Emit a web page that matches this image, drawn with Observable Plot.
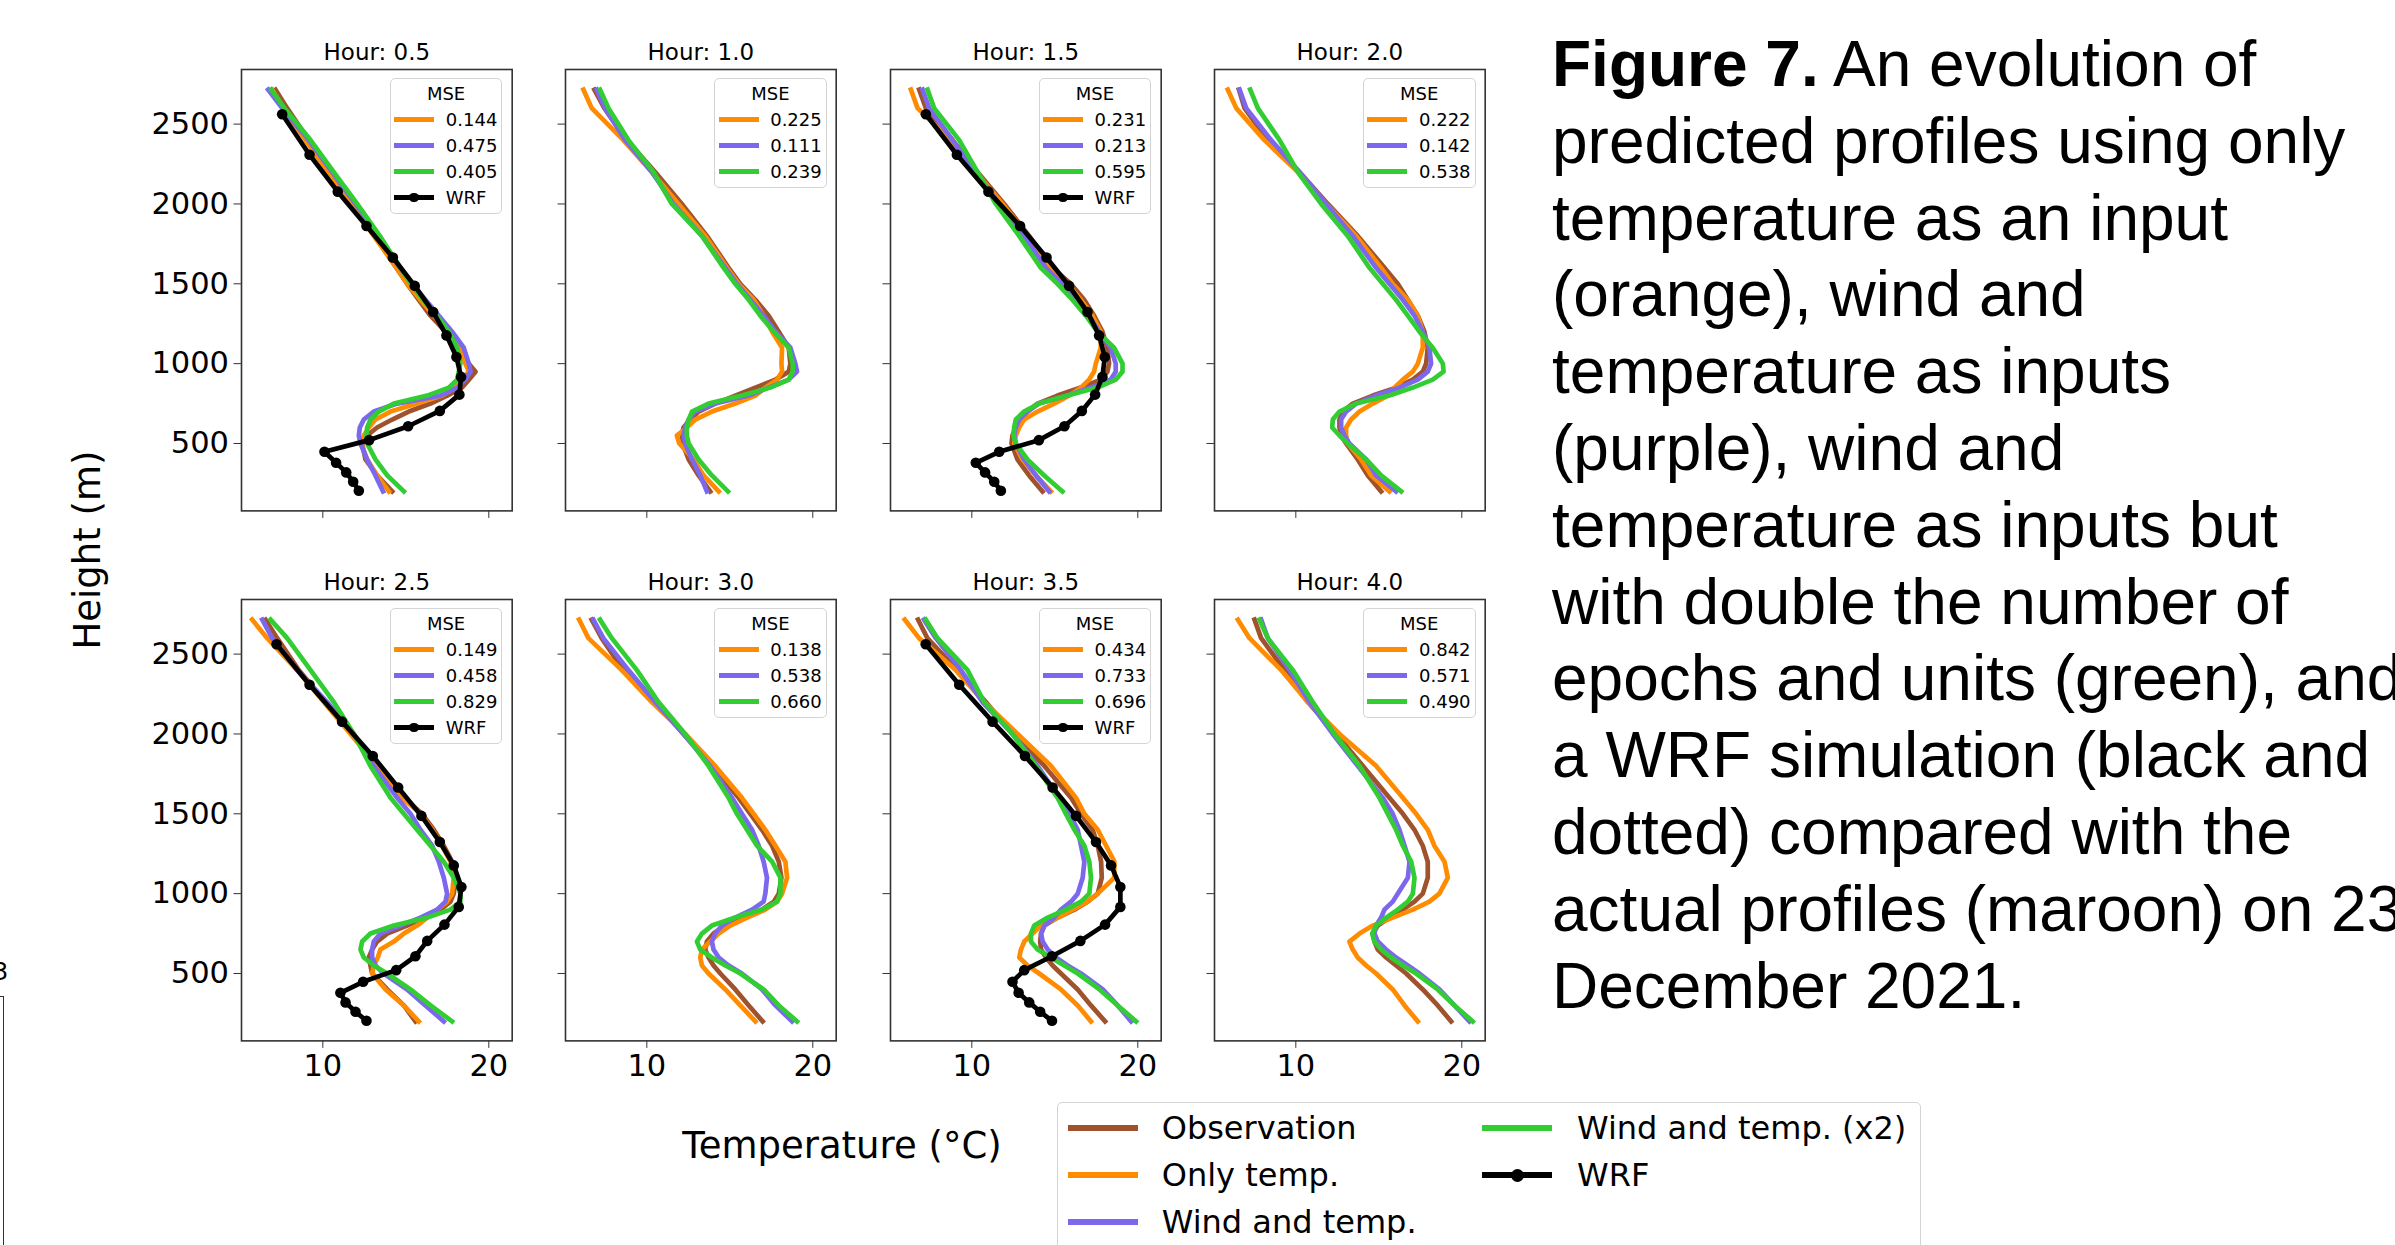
<!DOCTYPE html>
<html><head><meta charset="utf-8">
<script src="https://cdn.jsdelivr.net/npm/d3@7"></script>
<script src="https://cdn.jsdelivr.net/npm/@observablehq/plot@0.6"></script>
<style>
html,body{margin:0;padding:0;background:#fff;}
#page{position:relative;width:2395px;height:1245px;overflow:hidden;background:#fff;font-family:"DejaVu Sans",sans-serif;color:#000;}
.caption{position:absolute;left:1552px;top:26px;font-family:"Liberation Sans",Arial,sans-serif;font-size:64px;line-height:76.8px;white-space:nowrap;color:#000;}
.lbl{position:absolute;white-space:nowrap;line-height:1;font-size:37px;}
.lg{position:absolute;box-sizing:border-box;border:1.3px solid #d4d4d4;border-radius:5px;background:rgba(255,255,255,0.85);}
.lgt{position:absolute;white-space:nowrap;line-height:1;}
</style></head>
<body><div id="page"></div>
<script>
// ---------- data ----------
const hours = ["0.5","1.0","1.5","2.0","2.5","3.0","3.5","4.0"];
const heights = [200,300,400,500,550,600,650,700,750,800,850,900,950,1000,1100,1200,1300,1400,1500,1600,1800,2000,2200,2400,2600,2716];
const wrfHeights = [204,260,319,379,448,521,608,704,806,917,1042,1177,1323,1487,1665,1862,2077,2308,2562];
const xTicks = [10, 20];
const yTicks = [500, 1000, 1500, 2000, 2500];
const seriesNames = ["Observation","Only temp.","Wind and temp.","Wind and temp. (x2)","WRF"];
const seriesColors = ["#a0522d","#ff8c00","#7b68ee","#32cd32","#000000"];
const mseOnlyTemp = [0.144,0.225,0.231,0.222,0.149,0.138,0.434,0.842];
const mseWind     = [0.475,0.111,0.213,0.142,0.458,0.538,0.733,0.571];
const mseWind2x   = [0.405,0.239,0.595,0.538,0.829,0.660,0.696,0.490];

const obs05 = [14.18,13.27,12.57,12.37,12.67,13.27,14.18,15.18,16.49,17.49,18.39,18.80,19.20,18.80,18.19,17.39,16.49,15.78,15.08,14.44,13.17,11.87,10.46,9.15,7.85,7.15];
const temp05 = [13.98,13.27,12.67,12.31,12.47,12.77,13.17,14.08,15.68,17.19,17.99,18.39,18.80,18.59,18.29,17.59,16.69,15.88,15.08,14.44,13.07,11.77,10.30,8.96,7.61,6.95];
const wind05 = [13.63,13.17,12.67,12.27,12.17,12.23,12.47,13.07,14.48,17.09,18.09,18.59,18.90,18.80,18.49,17.79,16.99,16.18,15.38,14.64,13.37,11.97,10.56,9.15,7.55,6.71];
const wind2x05 = [14.88,13.88,13.17,12.67,12.63,12.67,12.87,13.37,14.28,16.29,17.59,18.09,18.19,18.29,18.09,17.59,16.85,16.04,15.32,14.68,13.43,12.07,10.66,9.26,7.69,6.89];
const wrf05 = [12.17,11.83,11.41,10.80,10.10,12.79,15.14,17.05,18.23,18.33,18.05,17.45,16.65,15.54,14.22,12.63,10.90,9.20,7.55];

const obs10 = [13.82,13.12,12.52,12.15,12.11,12.21,12.62,13.12,14.12,15.33,16.54,17.75,18.55,18.65,18.55,17.95,17.34,16.54,15.63,14.93,13.62,12.11,10.50,8.79,7.44,6.84];
const temp10 = [14.33,13.42,12.82,11.96,11.81,12.41,12.92,13.92,15.33,16.54,17.14,17.85,18.15,18.11,18.15,17.55,17.04,16.44,15.53,14.83,13.52,11.91,10.30,8.59,6.68,6.18];
const wind10 = [13.62,13.22,12.72,12.31,12.21,12.31,12.52,12.92,14.12,16.14,17.34,18.55,19.05,18.95,18.65,17.75,17.04,16.24,15.43,14.73,13.32,11.61,10.30,8.69,7.48,6.98];
const wind2x10 = [14.89,13.92,13.12,12.52,12.41,12.41,12.52,12.72,13.72,15.73,17.44,18.55,18.79,18.79,18.55,17.65,16.84,16.14,15.33,14.63,13.32,11.51,10.40,8.89,7.69,7.18];

const obs15 = [14.26,13.45,12.75,12.39,12.45,12.65,12.95,13.35,13.96,15.16,16.57,17.77,18.17,18.27,18.17,17.87,17.37,16.77,15.96,14.86,13.45,11.95,10.34,8.84,7.23,6.83];
const temp15 = [14.76,13.86,13.05,12.55,12.65,12.85,13.15,13.96,14.96,15.86,16.57,17.07,17.37,17.47,17.77,17.77,17.27,16.57,15.76,14.76,13.35,11.85,10.24,8.73,6.73,6.33];
const wind15 = [14.66,13.86,13.15,12.65,12.55,12.65,12.85,13.35,14.04,15.76,17.17,18.37,18.67,18.67,18.37,17.67,17.07,16.37,15.46,14.46,13.15,11.65,10.24,8.84,7.43,7.03];
const wind2x15 = [15.46,14.36,13.35,12.65,12.51,12.55,12.65,13.15,14.04,15.76,17.57,18.67,19.08,19.08,18.57,17.57,16.87,16.06,15.16,14.16,12.85,11.45,10.34,9.24,7.73,7.33];
const wrf15 = [11.75,11.35,10.80,10.24,11.65,14.04,15.58,16.63,17.43,17.87,18.01,17.67,16.97,15.86,14.50,12.91,11.00,9.10,7.23];

const obs20 = [15.14,14.34,13.73,13.03,12.73,12.63,12.63,12.83,13.43,14.64,16.04,17.05,17.65,17.85,17.95,17.75,17.35,16.75,16.14,15.34,13.73,11.93,10.22,8.31,6.91,6.57];
const temp20 = [15.64,14.54,13.94,13.13,13.03,13.03,13.33,13.84,14.64,15.54,15.94,16.45,17.05,17.35,17.65,17.65,17.35,16.75,15.84,15.14,13.63,11.83,10.12,8.11,6.41,5.90];
const wind20 = [16.04,14.84,14.24,13.23,12.93,12.73,12.73,13.03,13.63,14.84,16.24,17.35,17.95,18.15,18.05,17.65,17.15,16.45,15.64,14.84,13.43,11.83,10.22,8.51,7.01,6.61];
const wind2x20 = [16.35,15.14,14.24,13.13,12.63,12.19,12.23,12.63,13.63,15.64,17.05,18.25,18.90,18.86,18.25,17.45,16.75,16.04,15.24,14.44,13.13,11.53,10.12,9.02,7.71,7.25];

const obs25 = [15.58,14.88,13.88,12.97,12.87,12.77,12.97,13.27,13.88,15.08,16.08,17.09,17.69,17.89,17.99,17.79,17.29,16.69,15.98,14.88,13.27,11.77,10.16,8.55,7.25,6.55];
const temp25 = [15.78,14.88,13.78,12.97,13.07,13.31,13.47,14.28,14.88,15.68,16.29,16.89,17.49,17.79,17.89,17.69,17.19,16.59,15.88,14.78,13.27,11.67,10.06,8.45,6.65,5.74];
const wind25 = [17.29,16.18,15.08,13.67,13.17,12.97,12.97,13.07,13.47,14.68,15.88,16.89,17.39,17.49,17.29,16.99,16.59,15.88,15.28,14.48,13.07,11.87,10.26,8.45,6.95,6.35];
const wind2x25 = [17.79,16.49,15.28,13.88,13.07,12.47,12.27,12.37,12.87,14.28,16.29,17.69,18.29,18.29,17.89,17.29,16.49,15.68,14.88,14.08,12.87,11.87,10.66,9.26,7.85,6.85];
const wrf25 = [12.63,11.97,11.37,11.06,12.43,14.42,15.58,16.29,17.33,18.19,18.35,17.89,17.05,15.94,14.54,13.01,11.16,9.20,7.21];

const obs30 = [16.98,16.14,15.33,14.43,14.02,13.72,13.52,13.62,14.02,14.73,15.94,16.94,17.65,17.95,18.11,17.95,17.55,16.94,16.24,15.53,13.92,12.21,10.50,8.59,7.28,6.68];
const temp30 = [16.54,15.63,14.73,13.72,13.32,13.22,13.32,13.82,14.33,15.03,16.04,17.14,17.85,18.15,18.45,18.35,17.75,17.14,16.44,15.73,14.12,12.31,10.30,8.49,6.48,5.92];
const wind30 = [18.75,17.75,16.94,15.73,14.93,14.33,14.02,13.92,14.12,14.53,15.33,16.34,17.04,17.14,17.24,17.04,16.74,16.34,15.73,15.13,13.82,12.21,10.50,8.89,7.38,6.78];
const wind2x30 = [19.05,17.95,17.04,15.63,14.73,13.92,13.22,13.02,13.32,13.92,15.33,16.94,17.85,18.05,18.05,17.55,16.64,16.04,15.43,14.93,13.72,12.31,10.70,9.40,7.89,7.18];

const obs35 = [18.03,17.18,16.38,15.37,14.87,14.47,14.17,14.12,14.17,14.37,15.17,16.18,16.98,17.59,17.83,17.79,17.59,17.28,16.58,15.98,14.37,12.45,10.85,9.13,7.32,6.76];
const temp35 = [17.18,16.38,15.37,14.06,13.36,12.86,12.96,13.16,13.66,14.17,15.17,16.08,16.98,17.59,18.59,18.59,18.09,17.59,16.78,16.28,14.77,12.76,10.74,9.03,6.82,5.96];
const wind35 = [19.60,18.79,17.89,16.58,15.77,15.07,14.57,14.27,14.17,14.37,14.97,15.37,15.98,16.38,16.68,16.78,16.58,16.38,15.88,15.27,13.96,12.45,10.64,9.34,7.83,7.12];
const wind2x35 = [19.90,18.79,17.69,16.38,15.57,14.77,13.96,13.56,13.56,13.76,14.57,15.67,16.58,17.08,17.18,17.08,16.78,16.18,15.67,15.17,13.86,12.45,10.74,9.74,7.93,7.22];
const wrf35 = [14.83,14.12,13.46,12.82,12.45,13.16,14.83,16.54,18.03,18.95,18.95,18.39,17.48,16.28,14.87,13.20,11.25,9.24,7.22];

const obs40 = [19.36,18.55,17.65,16.65,16.04,15.44,14.94,14.74,14.64,14.94,15.64,16.45,17.15,17.65,17.95,17.95,17.65,17.15,16.45,15.64,14.04,12.43,10.72,9.32,7.91,7.51];
const temp40 = [17.35,16.55,15.84,14.84,14.24,13.73,13.43,13.23,13.84,14.64,15.84,17.05,18.05,18.65,19.16,18.96,18.35,17.95,17.25,16.45,14.84,12.63,10.72,9.12,7.21,6.51];
const wind40 = [20.46,19.56,18.65,17.45,16.75,16.04,15.44,14.94,14.74,14.84,15.14,15.34,15.84,16.14,16.75,16.85,16.55,16.24,15.84,15.24,13.73,12.23,10.82,9.62,8.31,7.91];
const wind2x40 = [20.66,19.56,18.55,17.25,16.45,15.74,15.14,14.74,14.60,14.84,15.44,16.14,16.75,17.05,17.15,16.95,16.45,16.04,15.54,15.04,13.84,12.33,11.02,9.82,8.31,7.81];

// tables built from the arrays above
const obsByHour    = [obs05, obs10, obs15, obs20, obs25, obs30, obs35, obs40];
const tempByHour   = [temp05, temp10, temp15, temp20, temp25, temp30, temp35, temp40];
const windByHour   = [wind05, wind10, wind15, wind20, wind25, wind30, wind35, wind40];
const wind2xByHour = [wind2x05, wind2x10, wind2x15, wind2x20, wind2x25, wind2x30, wind2x35, wind2x40];
const wrfByHour    = [wrf05, null, wrf15, null, wrf25, null, wrf35, null];

// ---------- layout ----------
const page = document.getElementById("page");
const colLeft = [241, 565.4, 889.8, 1214.2];
const rowTop = [69.3, 599.3];
const FW = 270.7, FH = 441.4;
const ML = 110, MR = 14, MT = 50, MB = 60;
const LW = 4.7;

function rows(vals, hs) { return hs.map((h, j) => ({h, t: vals[j]})); }

function el(tag, css, text) {
  const e = document.createElement(tag);
  e.style.cssText = css;
  if (text != null) e.textContent = text;
  return e;
}

hours.forEach((hr, i) => {
  const col = i % 4, row = Math.floor(i / 4);
  const marks = [];
  const lines = [obsByHour[i], tempByHour[i], windByHour[i], wind2xByHour[i]];
  lines.forEach((vals, k) => {
    marks.push(Plot.line(rows(vals, heights), {x: "t", y: "h", stroke: seriesColors[k], strokeWidth: LW, strokeLinejoin: "round", strokeLinecap: "square"}));
  });
  if (wrfByHour[i]) {
    const d = rows(wrfByHour[i], wrfHeights);
    marks.push(Plot.line(d, {x: "t", y: "h", stroke: "#000", strokeWidth: LW, strokeLinejoin: "round"}));
    marks.push(Plot.dot(d, {x: "t", y: "h", r: 5.3, fill: "#000", stroke: "none"}));
  }
  marks.push(Plot.frame({stroke: "#333", strokeWidth: 1.6}));
  marks.push(Plot.axisX({ticks: xTicks, tickSize: 7.5, tickPadding: 6, label: null, stroke: "#333",
    tickFormat: row === 1 ? (d => String(d)) : (() => "")}));
  marks.push(Plot.axisY({ticks: yTicks, tickSize: 7.5, tickPadding: 5, label: null, stroke: "#333",
    tickFormat: col === 0 ? (d => String(d)) : (() => "")}));
  marks.push(Plot.text(["Hour: " + hr], {text: d => d, frameAnchor: "top", dy: -17, fontSize: 23, lineAnchor: "middle", fill: "#000"}));

  const svg = Plot.plot({
    width: ML + FW + MR, height: MT + FH + MB,
    marginLeft: ML, marginRight: MR, marginTop: MT, marginBottom: MB,
    x: {domain: [5.1, 21.41], label: null},
    y: {domain: [78, 2842], label: null},
    style: {fontFamily: "DejaVu Sans", fontSize: "30.5px", background: "transparent", overflow: "visible", color: "#000"},
    marks
  });
  svg.style.position = "absolute";
  svg.style.left = (colLeft[col] - ML) + "px";
  svg.style.top = (rowTop[row] - MT) + "px";
  page.appendChild(svg);

  // per-panel MSE legend
  const hasWrf = !!wrfByHour[i];
  const bw = 112.5, bh = hasWrf ? 136 : 110;
  const bx = colLeft[col] + FW - 9.4 - bw, by = rowTop[row] + 9;
  const box = el("div", `left:${bx}px;top:${by}px;width:${bw}px;height:${bh}px;`);
  box.className = "lg";
  page.appendChild(box);
  const fs = 18;
  const t = el("div", `left:${bx}px;width:${bw}px;top:${by + 15.5 - fs/2}px;text-align:center;font-size:${fs}px;`, "MSE");
  t.className = "lgt"; page.appendChild(t);
  const entries = [[seriesColors[1], mseOnlyTemp[i].toFixed(3)], [seriesColors[2], mseWind[i].toFixed(3)], [seriesColors[3], mseWind2x[i].toFixed(3)]];
  if (hasWrf) entries.push(["#000", seriesNames[4], true]);
  const rowC = [41, 67.4, 93.4, 119.4];
  entries.forEach(([c, label, dot], k) => {
    const cy = by + rowC[k];
    page.appendChild(el("div", `position:absolute;left:${bx + 4.3}px;top:${cy - 2.3}px;width:40px;height:4.6px;background:${c};`));
    if (dot) page.appendChild(el("div", `position:absolute;left:${bx + 24.3 - 4.7}px;top:${cy - 4.7}px;width:9.4px;height:9.4px;border-radius:50%;background:#000;`));
    const tx = el("div", `left:${bx + 56}px;top:${cy - fs/2 + 0.5}px;font-size:${fs}px;`, label);
    tx.className = "lgt"; page.appendChild(tx);
  });
});

// ---------- figure labels ----------
const yl = el("div", `left:87px;top:550px;transform:translate(-50%,-50%) rotate(-90deg);`, "Height (m)");
yl.className = "lbl"; page.appendChild(yl);
const xl = el("div", `left:842px;top:1145px;transform:translate(-50%,-50%);`, "Temperature (°C)");
xl.className = "lbl"; page.appendChild(xl);

// ---------- bottom legend ----------
(function () {
  const L = 1057, T = 1102;
  const box = el("div", `left:${L}px;top:${T}px;width:864px;height:200px;`);
  box.className = "lg"; page.appendChild(box);
  const pos = [[10.5, 104.7, 26], [10.5, 104.7, 73], [10.5, 104.7, 120], [425, 520, 26], [425, 520, 73]];
  seriesNames.forEach((name, k) => {
    const [hx, tx, cy] = pos[k];
    page.appendChild(el("div", `position:absolute;left:${L + hx}px;top:${T + cy - 3.3}px;width:70px;height:6.6px;background:${seriesColors[k]};`));
    if (k === 4) page.appendChild(el("div", `position:absolute;left:${L + hx + 35 - 6.5}px;top:${T + cy - 6.5}px;width:13px;height:13px;border-radius:50%;background:#000;`));
    const t = el("div", `left:${L + tx}px;top:${T + cy - 16}px;font-size:32px;`, name);
    t.className = "lgt"; page.appendChild(t);
  });
})();

// ---------- caption ----------
const cap = document.createElement("div");
cap.className = "caption";
const capLines = [
  "", "predicted profiles using only", "temperature as an input", "(orange), wind and",
  "temperature as inputs", "(purple), wind and", "temperature as inputs but",
  "with double the number of", "epochs and units (green), and", "a WRF simulation (black and",
  "dotted) compared with the", "actual profiles (maroon) on 23", "December 2021."
];
capLines.forEach((ln, k) => {
  const d = document.createElement("div");
  if (k === 0) {
    const b = document.createElement("b"); b.textContent = "Figure 7.";
    d.appendChild(b); d.appendChild(document.createTextNode(" An evolution of"));
  } else d.textContent = ln;
  cap.appendChild(d);
});
page.appendChild(cap);

// ---------- clipped neighbour-figure remnants at the left edge ----------
page.appendChild(el("div", `position:absolute;left:-7px;top:960px;font-size:24px;line-height:1;`, "3"));
page.appendChild(el("div", `position:absolute;left:-10px;top:996px;width:12.5px;height:300px;border-top:1.5px solid #333;border-right:1.5px solid #333;`));
</script>
</body></html>
